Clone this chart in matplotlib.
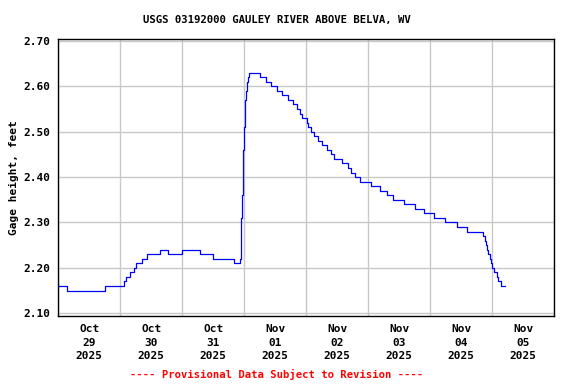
import matplotlib
matplotlib.use('Agg')
import matplotlib.pyplot as plt
import matplotlib.dates as mdates
import pandas as pd

# step changes in gage height (time the new value starts, feet)
times = ['2025-10-29 00:00', '2025-10-29 03:15', '2025-10-29 18:00',
         '2025-10-30 01:30', '2025-10-30 02:15', '2025-10-30 03:45', '2025-10-30 05:30',
         '2025-10-30 06:15', '2025-10-30 08:30', '2025-10-30 10:15', '2025-10-30 15:30',
         '2025-10-30 18:30', '2025-10-30 23:45', '2025-10-31 07:00', '2025-10-31 11:45',
         '2025-10-31 20:00', '2025-10-31 22:15', '2025-10-31 22:45', '2025-10-31 23:15',
         '2025-10-31 23:30', '2025-11-01 00:00', '2025-11-01 00:15', '2025-11-01 00:45',
         '2025-11-01 01:00', '2025-11-01 01:30', '2025-11-01 02:00',
         '2025-11-01 06:15', '2025-11-01 08:15', '2025-11-01 10:15', '2025-11-01 12:30',
         '2025-11-01 14:45', '2025-11-01 17:00', '2025-11-01 18:45', '2025-11-01 20:15',
         '2025-11-01 21:30', '2025-11-01 22:30',
         '2025-11-02 00:15', '2025-11-02 00:45', '2025-11-02 01:45', '2025-11-02 03:00',
         '2025-11-02 04:30', '2025-11-02 06:00', '2025-11-02 08:00', '2025-11-02 09:30',
         '2025-11-02 10:45', '2025-11-02 13:45', '2025-11-02 16:00', '2025-11-02 17:30',
         '2025-11-02 18:45', '2025-11-02 20:45',
         '2025-11-03 01:00', '2025-11-03 04:30', '2025-11-03 07:15', '2025-11-03 09:45',
         '2025-11-03 14:00', '2025-11-03 18:15', '2025-11-03 21:45',
         '2025-11-04 01:30', '2025-11-04 05:45', '2025-11-04 10:30', '2025-11-04 14:15',
         '2025-11-04 20:15', '2025-11-04 21:00', '2025-11-04 21:45', '2025-11-04 22:00',
         '2025-11-04 22:15', '2025-11-04 23:00', '2025-11-04 23:30', '2025-11-04 23:45',
         '2025-11-05 00:30', '2025-11-05 01:45', '2025-11-05 02:15', '2025-11-05 03:30',
         '2025-11-05 05:00']
gage = [2.16, 2.15, 2.16,
        2.17, 2.18, 2.19, 2.20,
        2.21, 2.22, 2.23, 2.24,
        2.23, 2.24, 2.23, 2.22,
        2.21, 2.22, 2.31, 2.36,
        2.46, 2.51, 2.57, 2.59,
        2.61, 2.62, 2.63,
        2.62, 2.61, 2.60, 2.59,
        2.58, 2.57, 2.56, 2.55,
        2.54, 2.53,
        2.52, 2.51, 2.50, 2.49,
        2.48, 2.47, 2.46, 2.45,
        2.44, 2.43, 2.42, 2.41,
        2.40, 2.39,
        2.38, 2.37, 2.36, 2.35,
        2.34, 2.33, 2.32,
        2.31, 2.30, 2.29, 2.28,
        2.27, 2.26, 2.25, 2.24,
        2.23, 2.22, 2.21, 2.20,
        2.19, 2.18, 2.17, 2.16,
        2.16]

days = pd.date_range('2025-10-29', '2025-11-06', freq='D')
yticks = [2.10, 2.20, 2.30, 2.40, 2.50, 2.60, 2.70]

t = pd.to_datetime(times)
mono = 'DejaVu Sans Mono'

fig = plt.figure(figsize=(5.76, 3.84), dpi=100)
ax = fig.add_axes([0.1012, 0.1771, 0.8611, 0.7206])

ax.plot(t, gage, color='#0000ff', lw=0.9, drawstyle='steps-post')

ax.set_xlim(days[0], days[-1])
ax.set_ylim(2.094, 2.7035)

# gridlines at midnight, labels at noon
ax.set_xticks(days)
ax.set_xticklabels([])
noon = days[:-1] + pd.Timedelta(hours=12)
ax.set_xticks(noon, minor=True)
ax.set_xticklabels([d.strftime('%b\n%d\n%Y') for d in noon], minor=True,
                   fontfamily=mono, fontweight='bold', fontsize=8, linespacing=1.4)
ax.tick_params(axis='x', which='both', length=0, pad=6)

ax.set_yticks(yticks)
ax.set_yticklabels(['%.2f' % v for v in yticks], fontfamily=mono,
                   fontweight='bold', fontsize=8)
ax.tick_params(axis='y', length=0, pad=6)

ax.grid(True, which='major', color='#c8c8c8', lw=1.0)
ax.set_axisbelow(True)
for s in ax.spines.values():
    s.set_linewidth(1.0)

ax.set_ylabel('Gage height, feet', fontfamily=mono, fontweight='bold',
              fontsize=8, labelpad=3)

fig.text(0.481, 0.947, 'USGS 03192000 GAULEY RIVER ABOVE BELVA, WV',
         ha='center', va='center', fontfamily=mono, fontweight='bold', fontsize=7.7)
fig.text(0.481, 0.026, '---- Provisional Data Subject to Revision ----',
         ha='center', va='center', color='#ff0000', fontfamily=mono,
         fontweight='bold', fontsize=7.6)

fig.savefig('out.png', dpi=100)
